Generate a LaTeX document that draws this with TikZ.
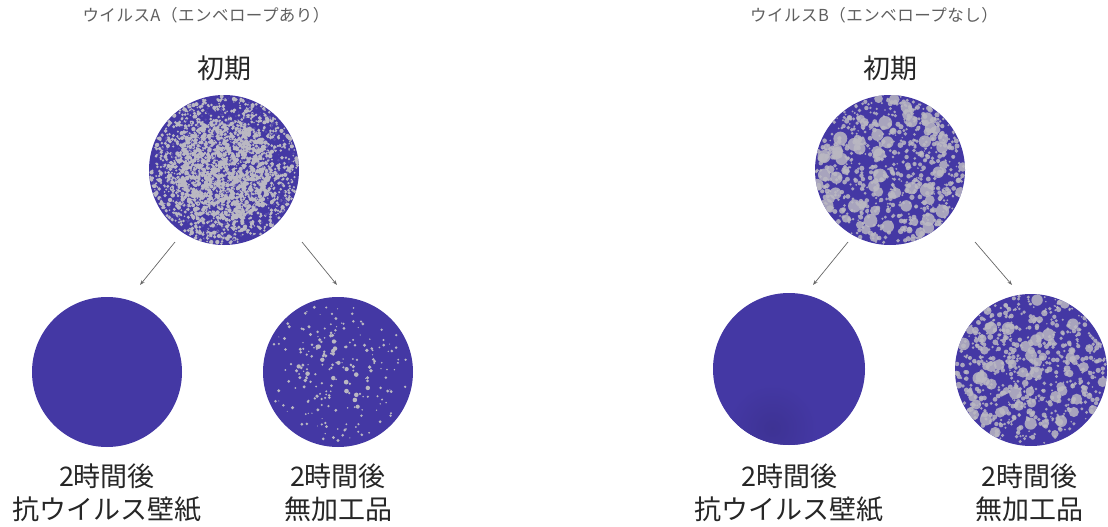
\documentclass[tikz,border=0pt]{standalone}
\usepackage{fontspec}
\setmainfont{Noto Sans CJK JP}
\newfontfamily\headfont{Noto Sans CJK JP}[LetterSpace=3]
\usetikzlibrary{arrows.meta}
\definecolor{dishblue}{RGB}{68,56,164}
\definecolor{plaque}{RGB}{186,184,194}
\definecolor{headgray}{RGB}{95,95,95}

% scatter spots inside a dish: centre, radius, count, min size, max size
\newcommand{\spots}[5]{%
  \foreach \k in {1,...,#3}{
    \pgfmathsetmacro{\rr}{#2*sqrt(rnd)}
    \pgfmathsetmacro{\aa}{360*rnd}
    \pgfmathsetmacro{\ss}{#4+(#5-#4)*rnd}
    \fill[shift={(#1)}] (\aa:\rr) circle (\ss);
  }}

\begin{document}
\begin{tikzpicture}[x=1pt,y=-1pt,
    dish/.style={circle,fill=dishblue,minimum size=150pt,inner sep=0pt},
    head/.style={font=\headfont\fontsize{16.5}{19}\selectfont,text=headgray},
    stage/.style={font=\fontsize{27}{33}\selectfont,text=black!85,align=center},
    flow/.style={draw=black!60,line width=0.7pt,-{Stealth[length=5pt,width=3.5pt]}}]
\useasboundingbox (0,0) rectangle (1108,527);
\pgfmathsetseed{11}

% virus A
\node[head] (ta) at (206,15) {ウイルスA（エンベロープあり）};
\node[stage] (sa) at (224,68) {初期};
\node[dish] (a0) at (224,170) {};
\node[dish] (a1) at (107,372) {};
\node[dish] (a2) at (338,372) {};
\begin{scope}
  \clip (a0) circle (75);
  \begin{scope}[plaque]
    \spots{a0}{74}{1300}{0.8}{2.2}
    \spots{a0}{50}{1100}{0.8}{2.3}
  \end{scope}
  \begin{scope}[dishblue!90!white]
    \spots{a0}{72}{300}{0.6}{1.6}
  \end{scope}
\end{scope}
\begin{scope}
  \clip (a2) circle (75);
  \begin{scope}[plaque]
    \spots{a2}{70}{170}{0.5}{1.7}
    \spots{a2}{40}{50}{1}{2.4}
  \end{scope}
\end{scope}
\coordinate (a0-l) at (175,242);
\coordinate (a1-t) at (140,285);
\coordinate (a0-r) at (302,242);
\coordinate (a2-t) at (337,285);
\draw[flow] (a0-l) -- (a1-t);
\draw[flow] (a0-r) -- (a2-t);
\node[stage] (la1) at (107,493) {2時間後\\抗ウイルス壁紙};
\node[stage] (la2) at (338,493) {2時間後\\無加工品};

% virus B
\node[head] (tb) at (874,15) {ウイルスB（エンベロープなし）};
\node[stage] (sb) at (890,68) {初期};
\node[dish] (b0) at (890,170) {};
\node[dish,minimum size=152pt] (b1) at (789,369) {};
\node[dish,minimum size=152pt] (b2) at (1031,370) {};
\begin{scope}
  \clip (b0) circle (75);
  \begin{scope}[plaque,opacity=0.85]
    \spots{b0}{74}{90}{2.5}{7}
    \spots{b0}{74}{650}{0.8}{2.6}
  \end{scope}
\end{scope}
\begin{scope}
  \clip (b1) circle (76);
  \shade[inner color=dishblue!90!black,outer color=dishblue] (772,428) circle (45);
\end{scope}
\begin{scope}
  \clip (b2) circle (76);
  \begin{scope}[plaque,opacity=0.85]
    \spots{b2}{75}{85}{2.5}{6.5}
    \spots{b2}{75}{600}{0.8}{2.5}
  \end{scope}
\end{scope}
\coordinate (b0-l) at (848,242);
\coordinate (b1-t) at (813,285);
\coordinate (b0-r) at (975,242);
\coordinate (b2-t) at (1012,285);
\draw[flow] (b0-l) -- (b1-t);
\draw[flow] (b0-r) -- (b2-t);
\node[stage] (lb1) at (789,493) {2時間後\\抗ウイルス壁紙};
\node[stage] (lb2) at (1029,493) {2時間後\\無加工品};
\end{tikzpicture}
\end{document}
